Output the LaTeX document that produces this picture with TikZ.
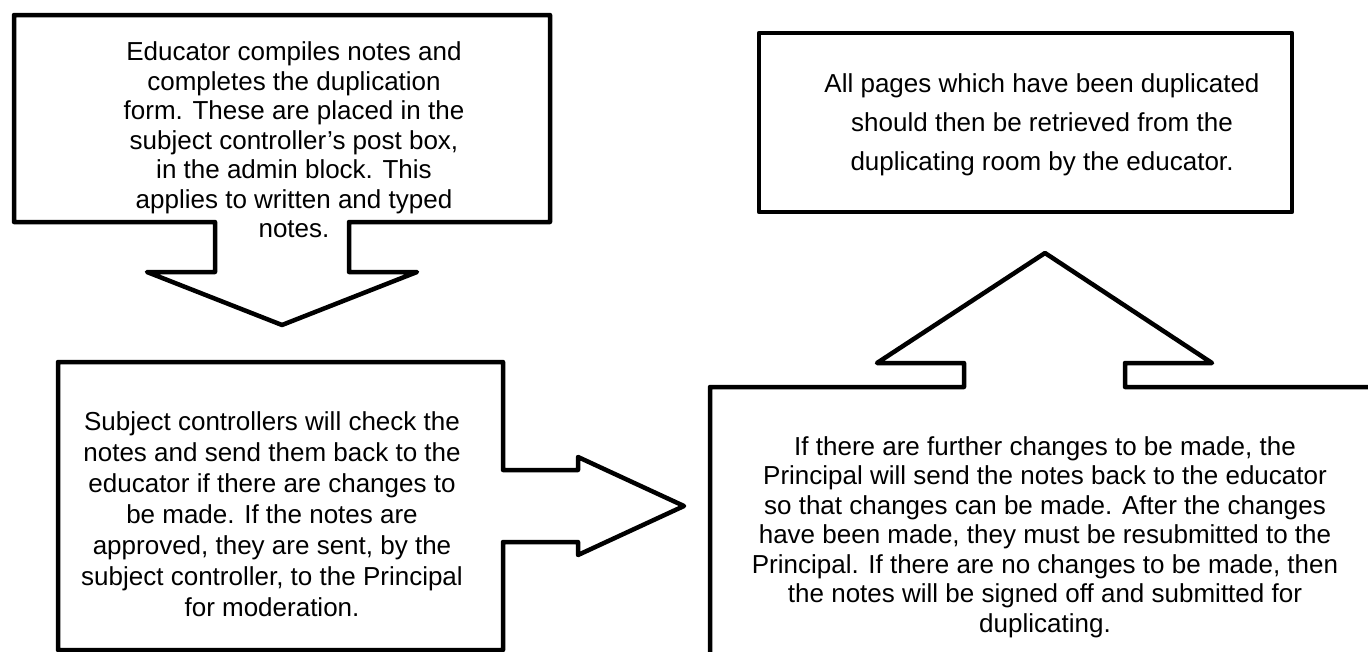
\documentclass[tikz,border=0pt]{standalone}
\usepackage{fontspec}
\setmainfont{Liberation Sans}
\begin{document}
\begin{tikzpicture}[x=1pt,y=-1pt,
  shapeline/.style={draw=black,line width=4.5pt,line join=round,fill=white},
  txt/.style={align=center,inner sep=0pt,text=black}]
\clip (0,0) rectangle (1368,651);
\fill[white] (0,0) rectangle (1368,651);
% top-left callout with down arrow
\draw[shapeline] (14,15) coordinate (c1tl) -- (550,15) -- (550,222) -- (349,222) -- (349,272) -- (417,272)
  -- (282,325) coordinate (c1tip) -- (147,272) -- (215,272) -- (215,222) -- (14,222) -- cycle;
% bottom-left callout with right arrow
\draw[shapeline] (58,362) coordinate (c2tl) -- (503,362) -- (503,470) -- (578,470) -- (578,457)
  -- (684,506) coordinate (c2tip) -- (578,555) -- (578,542) -- (503,542) -- (503,650) -- (58,650) -- cycle;
% bottom-right callout with up arrow
\draw[shapeline] (710,387) coordinate (c3tl) -- (964,387) -- (964,363) -- (877,363)
  -- (1045,253) coordinate (c3tip) -- (1212,363) -- (1125,363) -- (1125,387) -- (1380,387)
  -- (1380,670) -- (710,670) -- cycle;
% top-right box
\draw[shapeline] (759,33) coordinate (c4tl) rectangle (1292,212) coordinate (c4br);
% texts
\node[txt,font=\fontsize{26}{29.5}\selectfont] (t1) at (294,140)
  {Educator compiles notes and\\ completes the duplication\\ form. These are placed in the\\ subject controller’s post box,\\ in the admin block. This\\ applies to written and typed\\ notes.};
\node[txt,font=\fontsize{26}{31}\selectfont] (t2) at (272,514)
  {Subject controllers will check the\\ notes and send them back to the\\ educator if there are changes to\\ be made. If the notes are\\ approved, they are sent, by the\\ subject controller, to the Principal\\ for moderation.};
\node[txt,font=\fontsize{26}{29.5}\selectfont] (t3) at (1045,537)
  {If there are further changes to be made, the\\ Principal will send the notes back to the educator\\ so that changes can be made. After the changes\\ have been made, they must be resubmitted to the\\ Principal. If there are no changes to be made, then\\ the notes will be signed off and submitted for\\ duplicating.};
\node[txt,font=\fontsize{26}{39}\selectfont] (t4) at (1042,125)
  {All pages which have been duplicated\\ should then be retrieved from the\\ duplicating room by the educator.};
\end{tikzpicture}
\end{document}
